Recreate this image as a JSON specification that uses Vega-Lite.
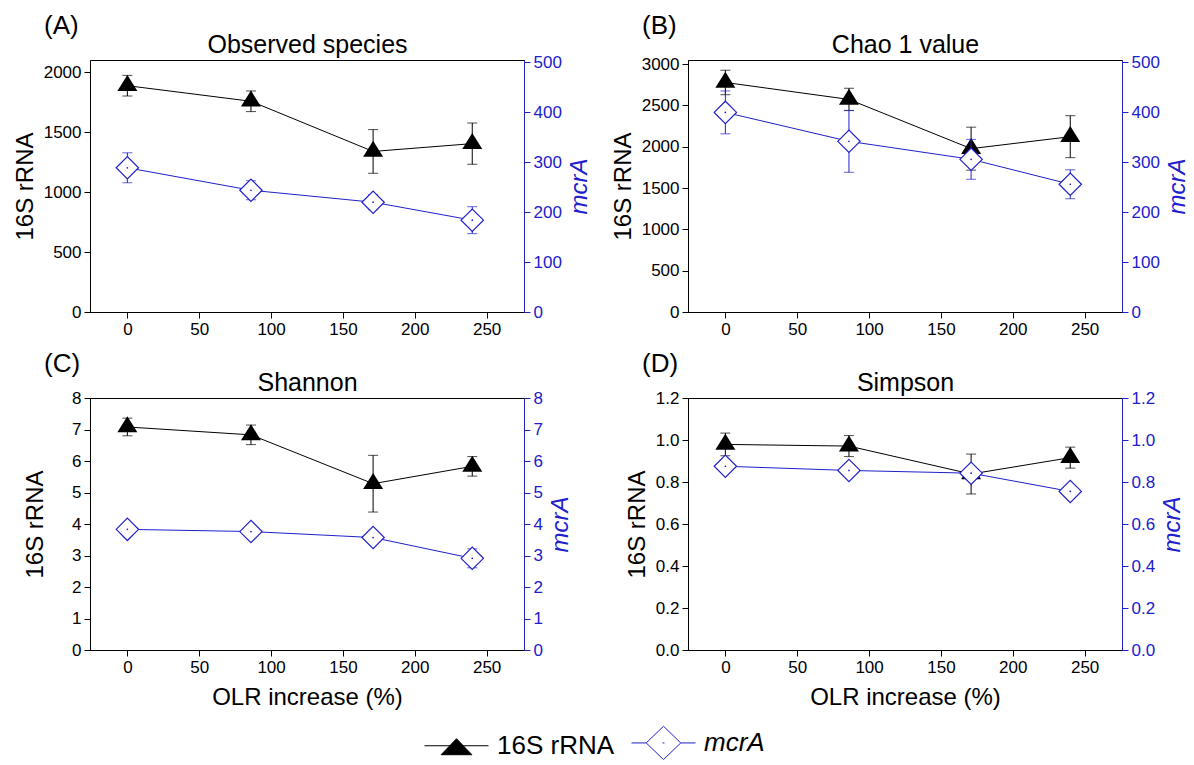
{
  "$schema": "https://vega.github.io/schema/vega-lite/v6.json",
  "background": "white",
  "padding": {"left": 12, "top": 12, "right": 5, "bottom": 0},
  "config": {
    "font": "Liberation Sans",
    "view": {"stroke": "black", "strokeWidth": 1},
    "axis": {"grid": false, "labelFont": "Liberation Sans", "titleFont": "Liberation Sans", "labelFontSize": 17, "titleFontSize": 24, "titleFontWeight": "normal", "labelColor": "black", "titleColor": "black", "tickColor": "black", "domainColor": "black", "tickSize": 6, "labelPadding": 3, "titlePadding": 6, "labelFlush": false, "labelOverlap": false},
    "title": {"font": "Liberation Sans", "fontSize": 26, "fontWeight": "normal", "color": "black"}
  },
  "datasets": {
    "d": [
      {"panel": "A", "series": "16S rRNA", "olr": 0, "value": 1886, "sd": 86},
      {"panel": "A", "series": "16S rRNA", "olr": 86, "value": 1756, "sd": 86},
      {"panel": "A", "series": "16S rRNA", "olr": 171, "value": 1338, "sd": 182},
      {"panel": "A", "series": "16S rRNA", "olr": 240, "value": 1403, "sd": 172},
      {"panel": "A", "series": "mcrA", "olr": 0, "value": 289, "sd": 30},
      {"panel": "A", "series": "mcrA", "olr": 86, "value": 244, "sd": 19},
      {"panel": "A", "series": "mcrA", "olr": 171, "value": 220, "sd": 15},
      {"panel": "A", "series": "mcrA", "olr": 240, "value": 184, "sd": 27},
      {"panel": "B", "series": "16S rRNA", "olr": 0, "value": 2778, "sd": 148},
      {"panel": "B", "series": "16S rRNA", "olr": 86, "value": 2573, "sd": 135},
      {"panel": "B", "series": "16S rRNA", "olr": 171, "value": 1977, "sd": 260},
      {"panel": "B", "series": "16S rRNA", "olr": 240, "value": 2122, "sd": 254},
      {"panel": "B", "series": "mcrA", "olr": 0, "value": 400, "sd": 43},
      {"panel": "B", "series": "mcrA", "olr": 86, "value": 342, "sd": 62},
      {"panel": "B", "series": "mcrA", "olr": 171, "value": 306, "sd": 40},
      {"panel": "B", "series": "mcrA", "olr": 240, "value": 256, "sd": 29},
      {"panel": "C", "series": "16S rRNA", "olr": 0, "value": 7.08, "sd": 0.28},
      {"panel": "C", "series": "16S rRNA", "olr": 86, "value": 6.83, "sd": 0.31},
      {"panel": "C", "series": "16S rRNA", "olr": 171, "value": 5.28, "sd": 0.9},
      {"panel": "C", "series": "16S rRNA", "olr": 240, "value": 5.83, "sd": 0.31},
      {"panel": "C", "series": "mcrA", "olr": 0, "value": 3.83, "sd": 0.15},
      {"panel": "C", "series": "mcrA", "olr": 86, "value": 3.76, "sd": 0.1},
      {"panel": "C", "series": "mcrA", "olr": 171, "value": 3.57, "sd": 0.15},
      {"panel": "C", "series": "mcrA", "olr": 240, "value": 2.91, "sd": 0.3},
      {"panel": "D", "series": "16S rRNA", "olr": 0, "value": 0.979, "sd": 0.054},
      {"panel": "D", "series": "16S rRNA", "olr": 86, "value": 0.971, "sd": 0.05},
      {"panel": "D", "series": "16S rRNA", "olr": 171, "value": 0.838, "sd": 0.095},
      {"panel": "D", "series": "16S rRNA", "olr": 240, "value": 0.916, "sd": 0.05},
      {"panel": "D", "series": "mcrA", "olr": 0, "value": 0.875, "sd": 0.03},
      {"panel": "D", "series": "mcrA", "olr": 86, "value": 0.855, "sd": 0.03},
      {"panel": "D", "series": "mcrA", "olr": 171, "value": 0.842, "sd": 0.03},
      {"panel": "D", "series": "mcrA", "olr": 240, "value": 0.755, "sd": 0.03}
    ]
  },
  "data": {"name": "d"},
  "columns": 2,
  "spacing": {"row": 86, "column": 164},
  "bounds": "flush",
  "concat": [
    {
      "width": 434, "height": 252,
      "title": {"text": "(A)", "anchor": "start", "frame": "group", "dx": -46, "offset": -7},
      "transform": [{"filter": "datum.panel === 'A'"}],
      "layer": [
        {
          "transform": [{"filter": "datum.series === '16S rRNA'"}],
          "encoding": {
            "x": {"field": "olr", "type": "quantitative", "scale": {"domain": [-26, 276], "nice": false, "zero": false}, "axis": null},
            "y": {"field": "value", "type": "quantitative", "scale": {"domain": [0, 2100], "nice": false}, "axis": {"orient": "left", "title": "16S rRNA", "values": [0, 500, 1000, 1500, 2000], "format": "d"}}
          },
          "layer": [
            {"mark": {"type": "line", "color": "black", "strokeWidth": 1},
             "encoding": {"x": {"field": "olr", "type": "quantitative", "scale": {"domain": [-26, 276], "nice": false, "zero": false}, "axis": {"orient": "bottom", "title": null, "values": [0, 50, 100, 150, 200, 250]}}}},
            {"mark": {"type": "errorbar", "color": "black", "ticks": true, "size": 10, "thickness": 1}, "encoding": {"yError": {"field": "sd"}}},
            {"mark": {"type": "point", "shape": "M0,-1.07L1,0.53L-1,0.53Z", "filled": true, "color": "black", "size": 400, "opacity": 1},
             "encoding": {
               "x": {"field": "olr", "type": "quantitative", "scale": {"domain": [-26, 276], "nice": false, "zero": false}, "axis": {"orient": "top", "title": "Observed species", "labels": false, "ticks": false, "domain": false, "titleFontSize": 25, "titlePadding": 3}}
             }},
            {"mark": {"type": "point", "filled": true, "opacity": 0},
             "encoding": {
               "shape": {"field": "series", "type": "nominal", "scale": {"domain": ["16S rRNA", "mcrA"], "range": ["M-1,0H1M0,-0.22L0.48,0.28L-0.48,0.28Z", "M-1,0H-0.54M0.54,0H1M-0.54,0L0,-0.52L0.54,0L0,0.52ZM-0.03,0H0.03"]},
                 "legend": {"title": null, "orient": "none", "legendX": 334, "legendY": 650, "direction": "horizontal", "symbolSize": 4096, "symbolStrokeWidth": 1, "symbolOpacity": 1, "labelFontSize": 26, "labelFont": "Liberation Sans", "labelColor": "black", "labelOffset": 8, "columnPadding": 14, "labelFontStyle": {"expr": "datum.value === 'mcrA' ? 'italic' : 'normal'"}}},
               "fill": {"field": "series", "type": "nominal", "scale": {"domain": ["16S rRNA", "mcrA"], "range": ["black", "white"]},
                 "legend": {"title": null, "orient": "none", "legendX": 334, "legendY": 650, "direction": "horizontal", "symbolSize": 4096, "symbolStrokeWidth": 1, "symbolOpacity": 1, "labelFontSize": 26, "labelFont": "Liberation Sans", "labelColor": "black", "labelOffset": 8, "columnPadding": 14, "labelFontStyle": {"expr": "datum.value === 'mcrA' ? 'italic' : 'normal'"}}},
               "stroke": {"field": "series", "type": "nominal", "scale": {"domain": ["16S rRNA", "mcrA"], "range": ["black", "#2020cc"]},
                 "legend": {"title": null, "orient": "none", "legendX": 334, "legendY": 650, "direction": "horizontal", "symbolSize": 4096, "symbolStrokeWidth": 1, "symbolOpacity": 1, "labelFontSize": 26, "labelFont": "Liberation Sans", "labelColor": "black", "labelOffset": 8, "columnPadding": 14, "labelFontStyle": {"expr": "datum.value === 'mcrA' ? 'italic' : 'normal'"}}}
             }}
          ]
        },
        {
          "transform": [{"filter": "datum.series === 'mcrA'"}],
          "encoding": {
            "x": {"field": "olr", "type": "quantitative", "scale": {"domain": [-26, 276], "nice": false, "zero": false}, "axis": null},
            "y": {"field": "value", "type": "quantitative", "scale": {"domain": [0, 505], "nice": false}, "axis": {"orient": "right", "title": "mcrA", "values": [0, 100, 200, 300, 400, 500], "format": "d", "titleFontStyle": "italic", "titleColor": "#2020cc", "labelColor": "#2020cc", "tickColor": "#2020cc", "domainColor": "#2020cc", "titleAngle": 270, "titleBaseline": "top"}}
          },
          "layer": [
            {"mark": {"type": "line", "color": "#2020cc", "strokeWidth": 1}, "encoding": {}},
            {"mark": {"type": "errorbar", "color": "#2020cc", "ticks": true, "size": 10, "thickness": 1}, "encoding": {"yError": {"field": "sd"}}},
            {"mark": {"type": "point", "shape": "diamond", "filled": true, "fill": "white", "stroke": "#2020cc", "strokeWidth": 1.2, "size": 500, "opacity": 1}, "encoding": {}},
            {"mark": {"type": "point", "shape": "circle", "filled": true, "color": "#2020cc", "size": 3, "opacity": 1}, "encoding": {}}
          ]
        }
      ],
      "resolve": {"scale": {"y": "independent"}}
    },
    {
      "width": 434, "height": 252,
      "title": {"text": "(B)", "anchor": "start", "frame": "group", "dx": -46, "offset": -7},
      "transform": [{"filter": "datum.panel === 'B'"}],
      "layer": [
        {
          "transform": [{"filter": "datum.series === '16S rRNA'"}],
          "encoding": {
            "x": {"field": "olr", "type": "quantitative", "scale": {"domain": [-26, 276], "nice": false, "zero": false}, "axis": null},
            "y": {"field": "value", "type": "quantitative", "scale": {"domain": [0, 3050], "nice": false}, "axis": {"orient": "left", "title": "16S rRNA", "values": [0, 500, 1000, 1500, 2000, 2500, 3000], "format": "d"}}
          },
          "layer": [
            {"mark": {"type": "line", "color": "black", "strokeWidth": 1},
             "encoding": {"x": {"field": "olr", "type": "quantitative", "scale": {"domain": [-26, 276], "nice": false, "zero": false}, "axis": {"orient": "bottom", "title": null, "values": [0, 50, 100, 150, 200, 250]}}}},
            {"mark": {"type": "errorbar", "color": "black", "ticks": true, "size": 10, "thickness": 1}, "encoding": {"yError": {"field": "sd"}}},
            {"mark": {"type": "point", "shape": "M0,-1.07L1,0.53L-1,0.53Z", "filled": true, "color": "black", "size": 400, "opacity": 1},
             "encoding": {
               "x": {"field": "olr", "type": "quantitative", "scale": {"domain": [-26, 276], "nice": false, "zero": false}, "axis": {"orient": "top", "title": "Chao 1 value", "labels": false, "ticks": false, "domain": false, "titleFontSize": 25, "titlePadding": 3}}
             }}
          ]
        },
        {
          "transform": [{"filter": "datum.series === 'mcrA'"}],
          "encoding": {
            "x": {"field": "olr", "type": "quantitative", "scale": {"domain": [-26, 276], "nice": false, "zero": false}, "axis": null},
            "y": {"field": "value", "type": "quantitative", "scale": {"domain": [0, 505], "nice": false}, "axis": {"orient": "right", "title": "mcrA", "values": [0, 100, 200, 300, 400, 500], "format": "d", "titleFontStyle": "italic", "titleColor": "#2020cc", "labelColor": "#2020cc", "tickColor": "#2020cc", "domainColor": "#2020cc", "titleAngle": 270, "titleBaseline": "top"}}
          },
          "layer": [
            {"mark": {"type": "line", "color": "#2020cc", "strokeWidth": 1}, "encoding": {}},
            {"mark": {"type": "errorbar", "color": "#2020cc", "ticks": true, "size": 10, "thickness": 1}, "encoding": {"yError": {"field": "sd"}}},
            {"mark": {"type": "point", "shape": "diamond", "filled": true, "fill": "white", "stroke": "#2020cc", "strokeWidth": 1.2, "size": 500, "opacity": 1}, "encoding": {}},
            {"mark": {"type": "point", "shape": "circle", "filled": true, "color": "#2020cc", "size": 3, "opacity": 1}, "encoding": {}}
          ]
        }
      ],
      "resolve": {"scale": {"y": "independent"}}
    },
    {
      "width": 434, "height": 252,
      "title": {"text": "(C)", "anchor": "start", "frame": "group", "dx": -46, "offset": -7},
      "transform": [{"filter": "datum.panel === 'C'"}],
      "layer": [
        {
          "transform": [{"filter": "datum.series === '16S rRNA'"}],
          "encoding": {
            "x": {"field": "olr", "type": "quantitative", "scale": {"domain": [-26, 276], "nice": false, "zero": false}, "axis": null},
            "y": {"field": "value", "type": "quantitative", "scale": {"domain": [0, 8], "nice": false}, "axis": {"orient": "left", "title": "16S rRNA", "values": [0, 1, 2, 3, 4, 5, 6, 7, 8], "format": "d", "minExtent": 37}}
          },
          "layer": [
            {"mark": {"type": "line", "color": "black", "strokeWidth": 1},
             "encoding": {"x": {"field": "olr", "type": "quantitative", "scale": {"domain": [-26, 276], "nice": false, "zero": false}, "axis": {"orient": "bottom", "title": "OLR increase (%)", "titlePadding": 10, "values": [0, 50, 100, 150, 200, 250]}}}},
            {"mark": {"type": "errorbar", "color": "black", "ticks": true, "size": 10, "thickness": 1}, "encoding": {"yError": {"field": "sd"}}},
            {"mark": {"type": "point", "shape": "M0,-1.07L1,0.53L-1,0.53Z", "filled": true, "color": "black", "size": 400, "opacity": 1},
             "encoding": {
               "x": {"field": "olr", "type": "quantitative", "scale": {"domain": [-26, 276], "nice": false, "zero": false}, "axis": {"orient": "top", "title": "Shannon", "labels": false, "ticks": false, "domain": false, "titleFontSize": 25, "titlePadding": 3}}
             }}
          ]
        },
        {
          "transform": [{"filter": "datum.series === 'mcrA'"}],
          "encoding": {
            "x": {"field": "olr", "type": "quantitative", "scale": {"domain": [-26, 276], "nice": false, "zero": false}, "axis": null},
            "y": {"field": "value", "type": "quantitative", "scale": {"domain": [0, 8], "nice": false}, "axis": {"orient": "right", "title": "mcrA", "values": [0, 1, 2, 3, 4, 5, 6, 7, 8], "format": "d", "titleFontStyle": "italic", "titleColor": "#2020cc", "labelColor": "#2020cc", "tickColor": "#2020cc", "domainColor": "#2020cc", "titleAngle": 270, "titleBaseline": "top"}}
          },
          "layer": [
            {"mark": {"type": "line", "color": "#2020cc", "strokeWidth": 1}, "encoding": {}},
            {"mark": {"type": "errorbar", "color": "#2020cc", "ticks": true, "size": 10, "thickness": 1}, "encoding": {"yError": {"field": "sd"}}},
            {"mark": {"type": "point", "shape": "diamond", "filled": true, "fill": "white", "stroke": "#2020cc", "strokeWidth": 1.2, "size": 500, "opacity": 1}, "encoding": {}},
            {"mark": {"type": "point", "shape": "circle", "filled": true, "color": "#2020cc", "size": 3, "opacity": 1}, "encoding": {}}
          ]
        }
      ],
      "resolve": {"scale": {"y": "independent"}}
    },
    {
      "width": 434, "height": 252,
      "title": {"text": "(D)", "anchor": "start", "frame": "group", "dx": -46, "offset": -7},
      "transform": [{"filter": "datum.panel === 'D'"}],
      "layer": [
        {
          "transform": [{"filter": "datum.series === '16S rRNA'"}],
          "encoding": {
            "x": {"field": "olr", "type": "quantitative", "scale": {"domain": [-26, 276], "nice": false, "zero": false}, "axis": null},
            "y": {"field": "value", "type": "quantitative", "scale": {"domain": [0, 1.2], "nice": false}, "axis": {"orient": "left", "title": "16S rRNA", "values": [0, 0.2, 0.4, 0.6, 0.8, 1.0, 1.2], "format": ".1f"}}
          },
          "layer": [
            {"mark": {"type": "line", "color": "black", "strokeWidth": 1},
             "encoding": {"x": {"field": "olr", "type": "quantitative", "scale": {"domain": [-26, 276], "nice": false, "zero": false}, "axis": {"orient": "bottom", "title": "OLR increase (%)", "titlePadding": 10, "values": [0, 50, 100, 150, 200, 250]}}}},
            {"mark": {"type": "errorbar", "color": "black", "ticks": true, "size": 10, "thickness": 1}, "encoding": {"yError": {"field": "sd"}}},
            {"mark": {"type": "point", "shape": "M0,-1.07L1,0.53L-1,0.53Z", "filled": true, "color": "black", "size": 400, "opacity": 1},
             "encoding": {
               "x": {"field": "olr", "type": "quantitative", "scale": {"domain": [-26, 276], "nice": false, "zero": false}, "axis": {"orient": "top", "title": "Simpson", "labels": false, "ticks": false, "domain": false, "titleFontSize": 25, "titlePadding": 3}}
             }}
          ]
        },
        {
          "transform": [{"filter": "datum.series === 'mcrA'"}],
          "encoding": {
            "x": {"field": "olr", "type": "quantitative", "scale": {"domain": [-26, 276], "nice": false, "zero": false}, "axis": null},
            "y": {"field": "value", "type": "quantitative", "scale": {"domain": [0, 1.2], "nice": false}, "axis": {"orient": "right", "title": "mcrA", "values": [0, 0.2, 0.4, 0.6, 0.8, 1.0, 1.2], "format": ".1f", "titleFontStyle": "italic", "titleColor": "#2020cc", "labelColor": "#2020cc", "tickColor": "#2020cc", "domainColor": "#2020cc", "titleAngle": 270, "titleBaseline": "top"}}
          },
          "layer": [
            {"mark": {"type": "line", "color": "#2020cc", "strokeWidth": 1}, "encoding": {}},
            {"mark": {"type": "errorbar", "color": "#2020cc", "ticks": true, "size": 10, "thickness": 1}, "encoding": {"yError": {"field": "sd"}}},
            {"mark": {"type": "point", "shape": "diamond", "filled": true, "fill": "white", "stroke": "#2020cc", "strokeWidth": 1.2, "size": 500, "opacity": 1}, "encoding": {}},
            {"mark": {"type": "point", "shape": "circle", "filled": true, "color": "#2020cc", "size": 3, "opacity": 1}, "encoding": {}}
          ]
        }
      ],
      "resolve": {"scale": {"y": "independent"}}
    }
  ]
}
